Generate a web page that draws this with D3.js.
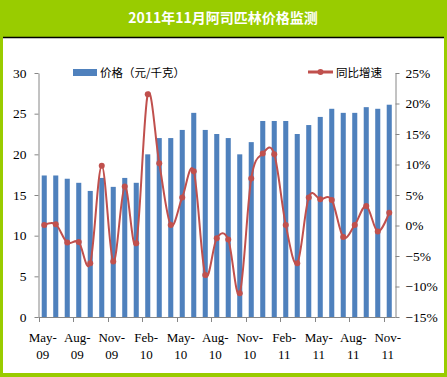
<!DOCTYPE html>
<html>
<head>
<meta charset="utf-8">
<script src="https://cdn.jsdelivr.net/npm/d3@7"></script>
<style>
  body { margin: 0; background: #99cc00; }
  svg { display: block; }
</style>
</head>
<body>
<svg width="447" height="377"></svg>
<script>
// monthly data, May 2009 .. Nov 2011
var months = ["May-09","Jun-09","Jul-09","Aug-09","Sep-09","Oct-09","Nov-09","Dec-09",
  "Jan-10","Feb-10","Mar-10","Apr-10","May-10","Jun-10","Jul-10","Aug-10","Sep-10","Oct-10","Nov-10","Dec-10",
  "Jan-11","Feb-11","Mar-11","Apr-11","May-11","Jun-11","Jul-11","Aug-11","Sep-11","Oct-11","Nov-11"];
var prices = [17.4,17.4,17.0,16.5,15.5,17.1,16.0,17.1,16.5,20.0,22.0,22.0,23.0,25.1,23.0,22.5,
  22.0,20.0,21.5,24.1,24.1,24.1,22.5,23.6,24.6,25.6,25.1,25.1,25.8,25.6,26.1];
var growth = [0.1,0.2,-2.8,-2.7,-6.2,9.8,-5.9,6.4,-2.9,21.5,10.2,0.1,4.6,8.9,-8.1,-2.1,
  -2.3,-11.1,7.7,11.8,11.7,0.1,-6.2,4.6,4.3,4.2,-1.9,0.1,3.2,-1.0,2.1];
var leftTicks = [0,5,10,15,20,25,30];
var rightTicks = [-15,-10,-5,0,5,10,15,20,25];
var title = "2011年11月阿司匹林价格监测";
var legendNames = ["价格（元/千克）", "同比增速"];

var barColor = "#4f81bd", lineColor = "#c0504d", axisColor = "#868686";
var serif = "'Liberation Serif', 'Times New Roman', serif";
var cjk = "'Noto Sans CJK SC', sans-serif";

var svg = d3.select("svg");

// frame
svg.append("rect").attr("x",0).attr("y",0).attr("width",447).attr("height",377).attr("fill","#99cc00");
svg.append("rect").attr("x",3).attr("y",37).attr("width",441).attr("height",336).attr("fill","#fff");
svg.append("line").attr("x1",3).attr("x2",444).attr("y1",37.5).attr("y2",37.5)
  .attr("stroke","#000").attr("stroke-width",1.5);
svg.append("text").attr("x",223).attr("y",23).attr("text-anchor","middle")
  .attr("fill","#fff").style("font-family",cjk).style("font-weight","bold").style("font-size","14px")
  .text(title);

// scales
var x = d3.scaleBand().domain(months).range([38.5,395]).paddingInner(0.56).paddingOuter(0.28);
var yL = d3.scaleLinear().domain([0,30]).range([317,73]);
var yR = d3.scaleLinear().domain([-15,25]).range([317,73]);
function cx(d) { return x(d) + x.bandwidth()/2; }

// bars
svg.append("g").selectAll("rect").data(prices).enter().append("rect")
  .attr("fill", barColor)
  .attr("x", function(d,i) { return x(months[i]); })
  .attr("width", x.bandwidth())
  .attr("y", function(d) { return yL(d); })
  .attr("height", function(d) { return yL(0) - yL(d); });

// axes
var axL = svg.append("g").attr("transform","translate(38.5,0)")
  .call(d3.axisLeft(yL).tickValues(leftTicks).tickSize(4).tickSizeOuter(0).tickPadding(8));
var axR = svg.append("g").attr("transform","translate(395.5,0)")
  .call(d3.axisRight(yR).tickValues(rightTicks).tickSize(4).tickSizeOuter(0).tickPadding(6)
    .tickFormat(function(d) { return (d < 0 ? "\u2212" + (-d) : d) + "%"; }));
[axL, axR].forEach(function(a) {
  a.selectAll("path,line").attr("stroke", axisColor);
  a.selectAll("text").attr("fill","#000").style("font-family",serif).style("font-size","13.5px");
});

// category axis
var bx = svg.append("g");
bx.append("line").attr("x1",38.5).attr("x2",395.5).attr("y1",317.5).attr("y2",317.5).attr("stroke",axisColor);
var every3 = months.filter(function(d,i) { return i % 3 === 0; });
bx.selectAll("line.tk").data(every3).enter().append("line").attr("class","tk")
  .attr("x1", function(d) { return Math.round(cx(d) - x.step()/2) + 0.5; })
  .attr("x2", function(d) { return Math.round(cx(d) - x.step()/2) + 0.5; })
  .attr("y1",317).attr("y2",322).attr("stroke",axisColor);
var lab = bx.selectAll("text").data(every3).enter().append("text")
  .attr("text-anchor","middle").style("font-family",serif).style("font-size","13px").attr("fill","#000");
lab.append("tspan").attr("x", function(d) { return cx(d) - 1.5; }).attr("y",342)
  .text(function(d) { return d.split("-")[0] + "-"; });
lab.append("tspan").attr("x", function(d) { return cx(d) - 1.5; }).attr("y",359)
  .text(function(d) { return d.split("-")[1]; });

// growth line
var line = d3.line()
  .x(function(d,i) { return cx(months[i]); })
  .y(function(d) { return yR(d); })
  .curve(d3.curveCardinal.tension(0));
svg.append("path").datum(growth).attr("d", line)
  .attr("fill","none").attr("stroke",lineColor).attr("stroke-width",2);
svg.append("g").selectAll("circle").data(growth).enter().append("circle")
  .attr("cx", function(d,i) { return cx(months[i]); })
  .attr("cy", function(d) { return yR(d); })
  .attr("r",3).attr("fill",lineColor);

// legend
svg.append("rect").attr("x",73).attr("y",69).attr("width",24).attr("height",7).attr("fill",barColor);
svg.append("text").attr("x",100).attr("y",77).style("font-family",cjk).style("font-size","11.5px")
  .text(legendNames[0]);
svg.append("line").attr("x1",308).attr("x2",333).attr("y1",72).attr("y2",72)
  .attr("stroke",lineColor).attr("stroke-width",3);
svg.append("circle").attr("cx",320.5).attr("cy",72).attr("r",3).attr("fill",lineColor);
svg.append("text").attr("x",336).attr("y",77).style("font-family",cjk).style("font-size","11.5px")
  .text(legendNames[1]);
</script>
</body>
</html>
